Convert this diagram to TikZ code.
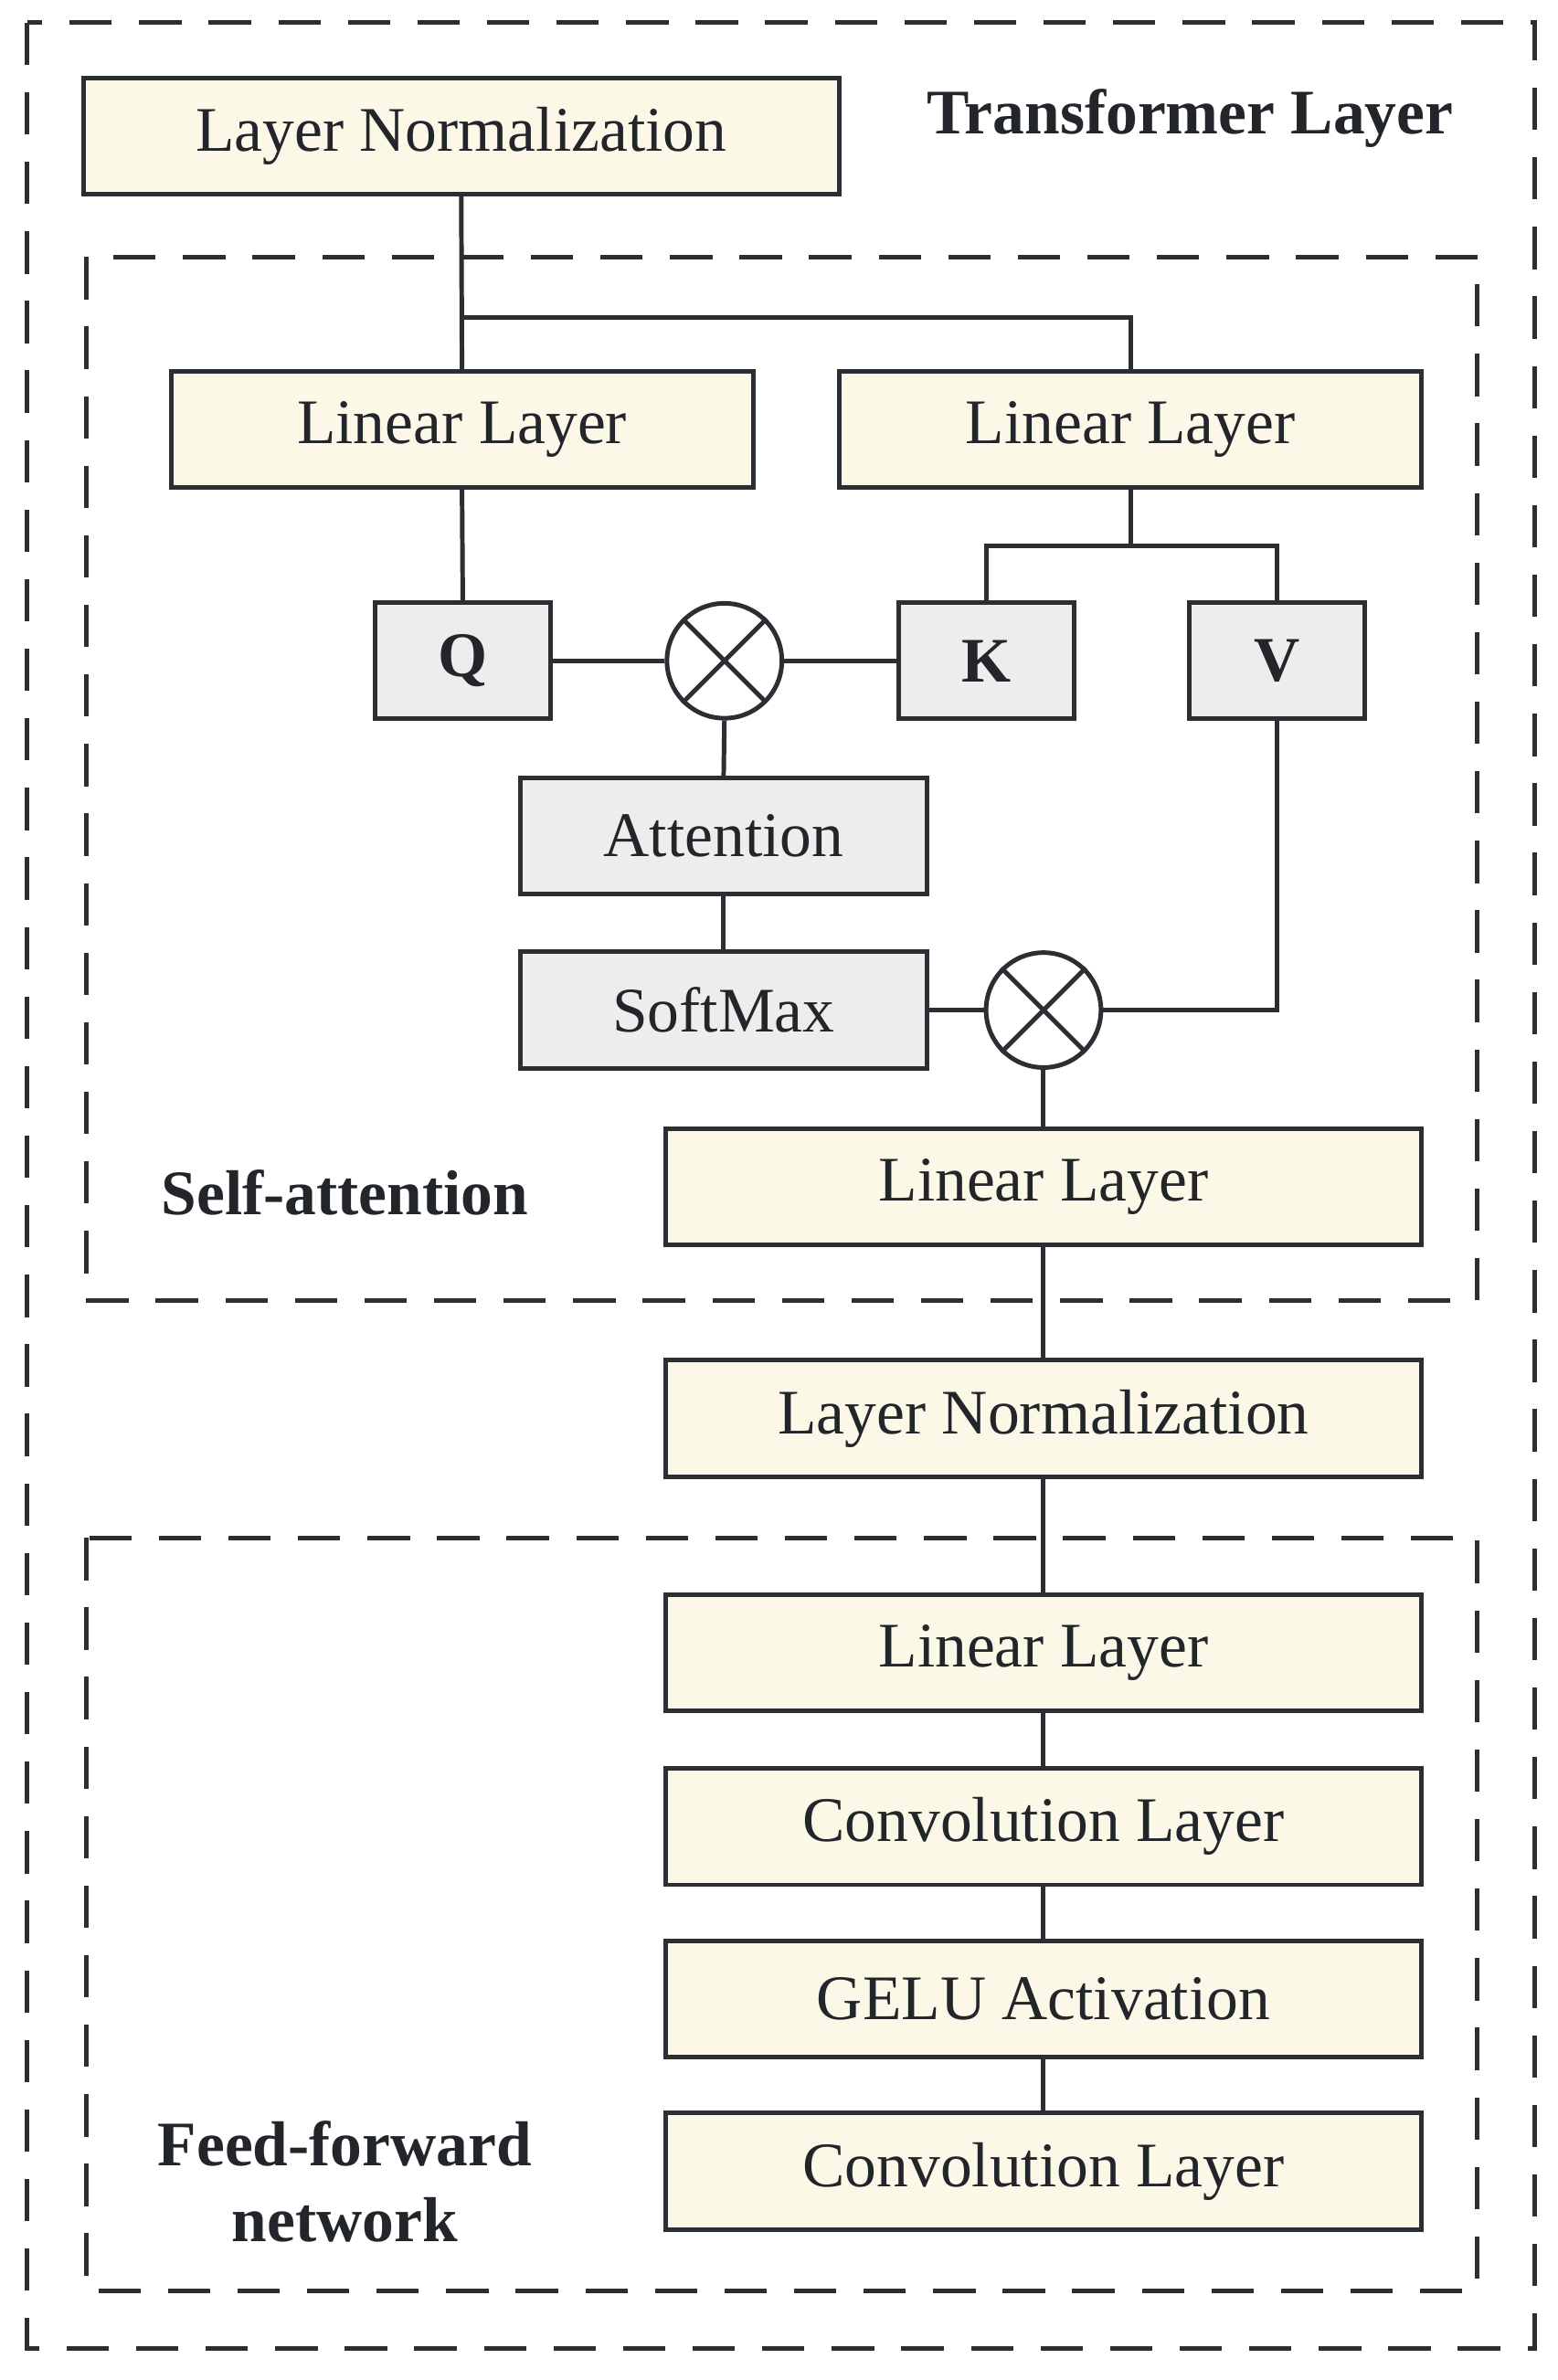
\documentclass[tikz,border=0pt]{standalone}
\usepackage{fontspec}
\setmainfont{Liberation Serif}
\usetikzlibrary{positioning}
\definecolor{boxy}{HTML}{FBF8E8}
\definecolor{boxg}{HTML}{EEECEC}
\definecolor{edge}{HTML}{2B2F33}
\begin{document}
\begin{tikzpicture}[x=0.5pt,y=-0.5pt,line width=1.5pt,draw=edge,
  every node/.style={font=\fontsize{21}{25}\selectfont,text=edge!80!black},
  ybox/.style={draw=edge,fill=boxy,minimum width=192.5pt,minimum height=38.5pt,inner sep=0pt},
  wbox/.style={draw=edge,fill=boxy,minimum width=250pt,minimum height=38.5pt,inner sep=0pt},
  gbox/.style={draw=edge,fill=boxg,minimum width=58pt,minimum height=38.5pt,inner sep=0pt,font=\fontsize{21}{25}\selectfont\bfseries},
  abox/.style={draw=edge,fill=boxg,minimum width=134.5pt,minimum height=38.5pt,inner sep=0pt},
  mult/.style={circle,draw=edge,fill=white,minimum size=38pt,inner sep=0pt},
  frame/.style={draw=edge,dash pattern=on 14pt off 9pt},
  lbl/.style={font=\fontsize{21}{25}\selectfont\bfseries,align=center}]
\useasboundingbox (0,0) rectangle (1030,1574);

% frames
\draw[frame] (18,15) rectangle (1015,1553);
\draw[frame] (57,170) rectangle (977,860);
\draw[frame] (57,1017) rectangle (977,1515);
\node[lbl] at (787,78) {Transformer Layer};
\node[lbl] at (228,789) {Self-attention};
\node[lbl] at (228,1443) {Feed-forward\\network};

% self-attention
\node[wbox] (ln1) at (305,90) {Layer Normalization};
\node[ybox] (lin1) at (305.5,284) {Linear Layer};
\node[ybox] (lin2) at (747.5,284) {Linear Layer};
\node[gbox] (q) at (306,437) {Q};
\node[mult] (m1) at (479,437) {};
\node[gbox] (k) at (652,437) {K};
\node[gbox] (v) at (844.5,437) {V};
\node[abox] (att) at (478.5,553) {Attention};
\node[abox] (sm) at (478.5,668) {SoftMax};
\node[mult] (m2) at (690,668) {};
\node[wbox] (lin3) at (690,785) {Linear Layer};

% feed-forward
\node[wbox] (ln2) at (690,938) {Layer Normalization};
\node[wbox] (lin4) at (690,1093) {Linear Layer};
\node[wbox] (conv1) at (690,1208) {Convolution Layer};
\node[wbox] (gelu) at (690,1322) {GELU Activation};
\node[wbox] (conv2) at (690,1436) {Convolution Layer};

\coordinate (br) at (305,210);
\coordinate (kv) at (747.5,361);

% connectors
\draw (ln1.south) -- (lin1.north);
\draw (br) -| (lin2.north);
\draw (lin2.south) -- (kv);
\draw (k.north) |- (kv) -| (v.north);
\draw (lin1.south) -- (q.north);
\draw (q.east) -- (m1.west);
\draw (m1.east) -- (k.west);
\draw (m1.south) -- (att.north);
\draw (att.south) -- (sm.north);
\draw (sm.east) -- (m2.west);
\draw (v.south) |- (m2.east);
\draw (m2.south) -- (lin3.north);
\draw (lin3.south) -- (ln2.north);
\draw (ln2.south) -- (lin4.north);
\draw (lin4.south) -- (conv1.north);
\draw (conv1.south) -- (gelu.north);
\draw (gelu.south) -- (conv2.north);
\foreach \m in {m1,m2}
  \draw (\m.north west) -- (\m.south east) (\m.north east) -- (\m.south west);
\end{tikzpicture}
\end{document}
